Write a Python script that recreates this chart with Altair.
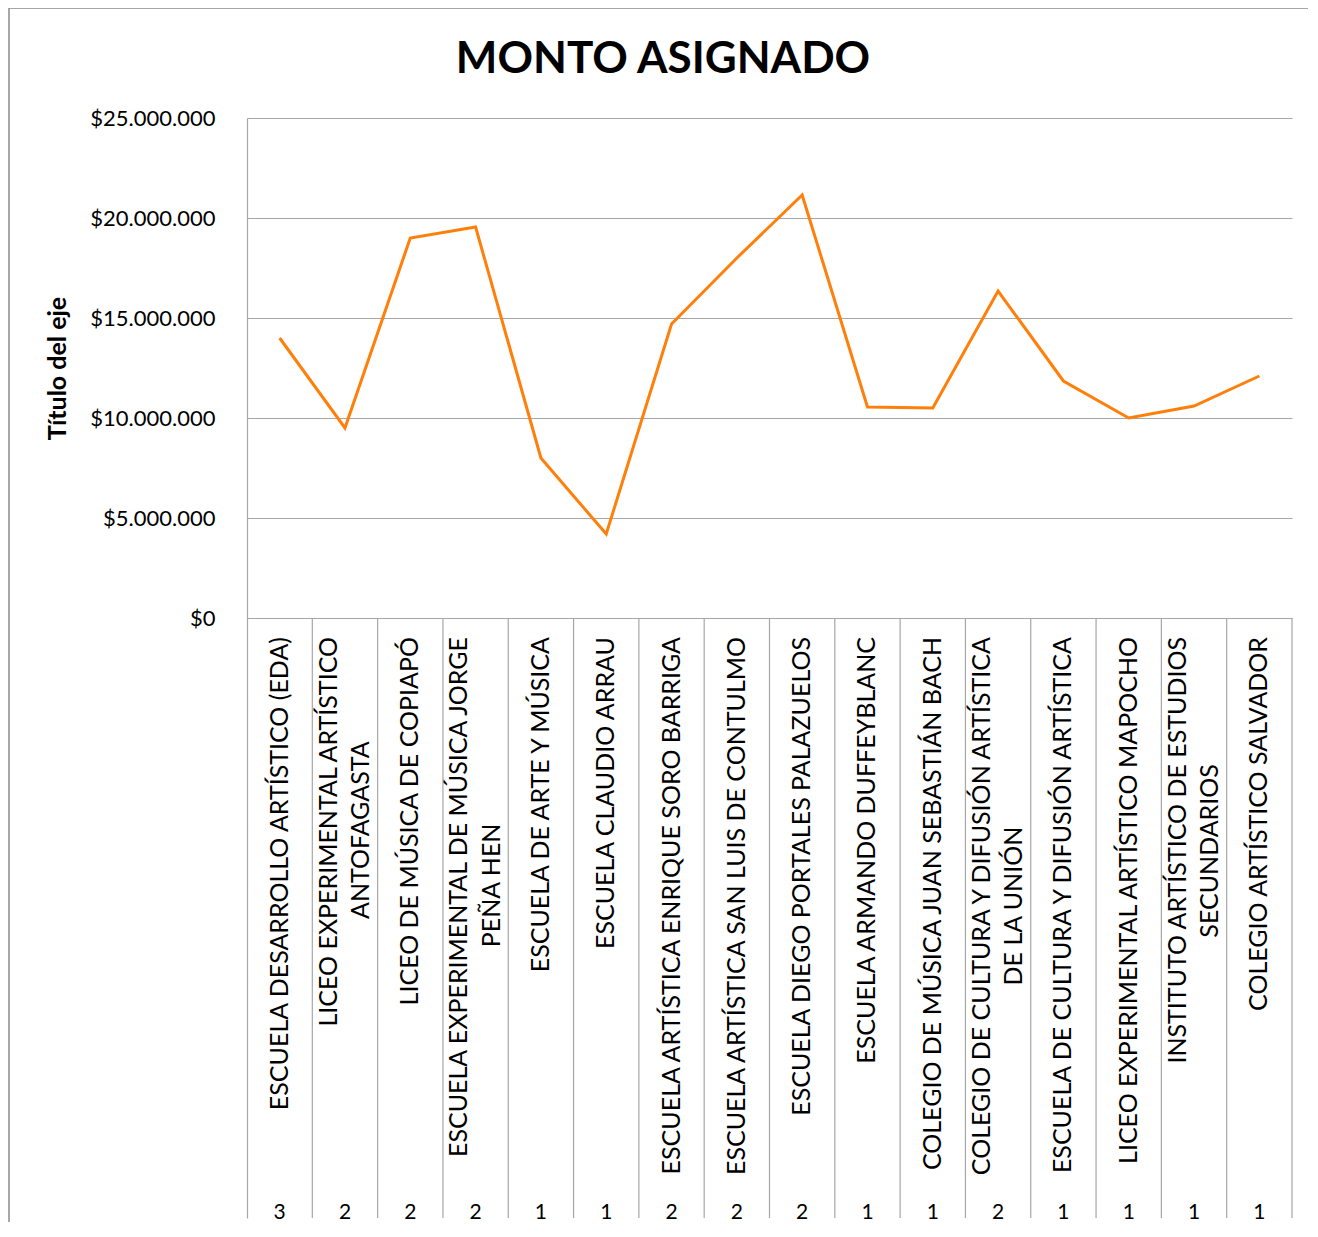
import altair as alt
import pandas as pd

# ---- data ----
nombres_l1 = [
    "ESCUELA DESARROLLO ARTÍSTICO (EDA)",
    "LICEO EXPERIMENTAL ARTÍSTICO",
    "LICEO DE MÚSICA DE COPIAPÓ",
    "ESCUELA EXPERIMENTAL DE MÚSICA JORGE",
    "ESCUELA DE ARTE Y MÚSICA",
    "ESCUELA CLAUDIO ARRAU",
    "ESCUELA ARTÍSTICA ENRIQUE SORO BARRIGA",
    "ESCUELA ARTÍSTICA SAN LUIS DE CONTULMO",
    "ESCUELA DIEGO PORTALES PALAZUELOS",
    "ESCUELA ARMANDO DUFFEYBLANC",
    "COLEGIO DE MÚSICA JUAN SEBASTIÁN BACH",
    "COLEGIO DE CULTURA Y DIFUSIÓN ARTÍSTICA",
    "ESCUELA DE CULTURA Y DIFUSIÓN ARTÍSTICA",
    "LICEO EXPERIMENTAL ARTÍSTICO MAPOCHO",
    "INSTITUTO ARTÍSTICO DE ESTUDIOS",
    "COLEGIO ARTÍSTICO SALVADOR",
]
nombres_l2 = [
    "", "ANTOFAGASTA", "", "PEÑA HEN", "", "", "", "", "", "", "",
    "DE LA UNIÓN", "", "", "SECUNDARIOS", "",
]
montos = [
    14000000, 9500000, 19000000, 19550000, 8000000, 4200000, 14700000,
    18000000, 21150000, 10550000, 10500000, 16350000, 11850000, 10000000,
    10600000, 12100000,
]
conteos = [3, 2, 2, 2, 1, 1, 2, 2, 2, 1, 1, 2, 1, 1, 1, 1]
y_ticks = [0, 5000000, 10000000, 15000000, 20000000, 25000000]
titulo = "MONTO ASIGNADO"
titulo_eje = "Título del eje"

n = len(montos)
df = pd.DataFrame({
    "idx": list(range(n)),
    "l1": nombres_l1,
    "l2": nombres_l2,
    "monto": montos,
    "n": [str(c) for c in conteos],
})
bounds = pd.DataFrame({"b": list(range(1, n + 1))})

PLOT_W = 1045
PLOT_H = 1100
Y_MIN = -30000000
Y_MAX = 25000000
GRAY = "#a6a6a6"
FONT = "Lato"
LAB_SIZE = 25

xs = alt.Scale(domain=[0, n], nice=False, zero=False)
ys = alt.Scale(domain=[Y_MIN, Y_MAX], nice=False, zero=False)

AX_Y = alt.Axis(
    values=y_ticks,
    grid=True,
    gridColor=GRAY,
    gridWidth=1.2,
    domainColor=GRAY,
    domainWidth=1.2,
    ticks=False,
    labelPadding=32,
    labelFont=FONT,
    labelFontSize=22,
    labelColor="#000000",
    labelExpr="'$' + replace(replace(format(datum.value, ','), ',', '.'), ',', '.')",
    title=titulo_eje,
    titleFont=FONT,
    titleFontSize=25,
    titleFontWeight="bold",
    titleColor="#000000",
    titleX=-190,
    titleY=250,
    titleAlign="center",
    titleBaseline="middle",
    titleAngle=270,
)

base = alt.Chart(df).transform_calculate(pos="datum.idx + 0.5")

line = base.mark_line(color="#FF7F0A", strokeWidth=3).encode(
    x=alt.X("pos:Q", scale=xs, axis=None),
    y=alt.Y("monto:Q", scale=ys, axis=AX_Y),
)

seps = alt.Chart(bounds).mark_rule(color=GRAY, strokeWidth=1.2).encode(
    x=alt.X("b:Q", scale=xs, axis=None),
    y=alt.Y(datum=0, scale=ys, axis=AX_Y),
    y2=alt.value(PLOT_H),
)

lab1 = base.transform_calculate(
    xl="datum.idx + 0.5 - (datum.l2 != '' ? 0.25 : 0)"
).mark_text(
    angle=270, align="right", baseline="middle", font=FONT, fontSize=LAB_SIZE, color="#000000"
).encode(
    x=alt.X("xl:Q", scale=xs, axis=None),
    y=alt.Y(datum=-950000, scale=ys, axis=AX_Y),
    text="l1:N",
)

lab2 = base.transform_filter("datum.l2 != ''").transform_calculate(
    xl="datum.idx + 0.5 + 0.25",
    yl="-950000 - length(datum.l1) * 345000",
).mark_text(
    angle=270, align="center", baseline="middle", font=FONT, fontSize=LAB_SIZE, color="#000000"
).encode(
    x=alt.X("xl:Q", scale=xs, axis=None),
    y=alt.Y("yl:Q", scale=ys, axis=AX_Y),
    text="l2:N",
)

nums = base.mark_text(
    align="center", baseline="middle", font=FONT, fontSize=21, color="#000000"
).encode(
    x=alt.X("pos:Q", scale=xs, axis=None),
    y=alt.Y(datum=-29750000, scale=ys, axis=AX_Y),
    text="n:N",
)

frame = alt.Chart(alt.Data(values=[{"k": 1}])).mark_rect(
    filled=False, stroke="#8c8c8c", strokeWidth=1.5
).encode(
    x=alt.value(-238), x2=alt.value(1200), y=alt.value(-110), y2=alt.value(1300)
)

title_mark = alt.Chart(alt.Data(values=[{"t": titulo}])).mark_text(
    align="center", baseline="middle", font=FONT, fontSize=44, fontWeight="bold", color="#000000"
).encode(
    x=alt.value(416), y=alt.value(-58), text="t:N"
)

chart = alt.layer(frame, seps, line, lab1, lab2, nums, title_mark).properties(
    width=PLOT_W,
    height=PLOT_H,
    padding={"left": 239, "top": 110, "right": 16, "bottom": 4},
    autosize=alt.AutoSizeParams(type="none"),
).configure_view(stroke=None)

chart.save("out.html", embed_options={"renderer": "svg", "actions": False})
